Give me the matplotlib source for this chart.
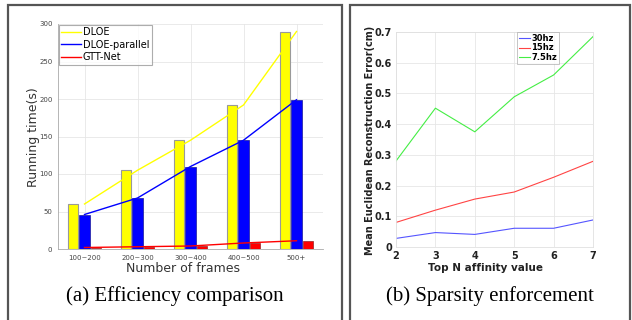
import numpy as np
import matplotlib
matplotlib.use("Agg")
import matplotlib.pyplot as plt
from matplotlib.patches import Rectangle

# === data: (a) efficiency ===
frame_groups = ["100~200", "200~300", "300~400", "400~500", "500+"]
dloe = [60, 105, 145, 192, 290]
dloe_parallel = [46, 68, 110, 145, 199]
gtt_net = [2, 3, 4, 8, 11]

# === data: (b) sparsity ===
top_n = [2, 3, 4, 5, 6, 7]
err_30hz = [0.028, 0.047, 0.041, 0.061, 0.061, 0.088]
err_15hz = [0.080, 0.120, 0.156, 0.179, 0.227, 0.279]
err_7_5hz = [0.280, 0.452, 0.375, 0.489, 0.560, 0.685]

fig = plt.figure(figsize=(6.32, 3.2), dpi=100)

# outer frames
W, H = 632.0, 320.0
for x0, x1 in [(8, 342), (350, 630)]:
    fig.patches.append(Rectangle((x0 / W, -0.05), (x1 - x0) / W, 1 - 5 / H + 0.05,
                                 transform=fig.transFigure, fill=False,
                                 edgecolor="#555555", linewidth=1.6))

grid_kw = dict(color="#e6e6e6", linewidth=0.6)

# === (a) Efficiency comparison ===
ax1 = fig.add_axes([58 / W, 1 - 249 / H, 265 / W, 225 / H])
x = np.arange(1, len(frame_groups) + 1)
bw = 0.19
ax1.bar(x - 0.22, dloe, bw, color="yellow", edgecolor="#999999", linewidth=0.8, zorder=3)
ax1.bar(x, dloe_parallel, bw, color="blue", edgecolor="#1a1a99", linewidth=0.5, zorder=3)
ax1.bar(x + 0.22, gtt_net, bw, color="red", edgecolor="#992222", linewidth=0.5, zorder=3)
ax1.plot(x, dloe, color="yellow", linewidth=1.0, label="DLOE", zorder=4)
ax1.plot(x, dloe_parallel, color="blue", linewidth=1.0, label="DLOE-parallel", zorder=4)
ax1.plot(x, gtt_net, color="red", linewidth=1.0, label="GTT-Net", zorder=4)
ax1.set_xlim(0.5, 5.5)
ax1.set_ylim(0, 300)
ax1.set_xticks(x)
ax1.set_xticklabels(frame_groups)
ax1.set_yticks(np.arange(0, 301, 50))
ax1.tick_params(labelsize=5, colors="#444444", length=0, pad=4)
ax1.grid(True, **grid_kw)
ax1.set_axisbelow(True)
for s in ["top", "right"]:
    ax1.spines[s].set_visible(False)
for s in ["left", "bottom"]:
    ax1.spines[s].set_color("#aaaaaa")
    ax1.spines[s].set_linewidth(0.6)
leg1 = ax1.legend(loc="upper left", fontsize=7, handlelength=2.0, handletextpad=0.2,
                  borderaxespad=0.1, borderpad=0.25, labelspacing=0.25, fancybox=False)
leg1.get_frame().set_edgecolor("#999999")
leg1.get_frame().set_linewidth(0.8)
fig.text(33 / W, 1 - 137 / H, "Running time(s)", rotation=90, ha="center", va="center",
         fontsize=9, color="#333333")
fig.text(183 / W, 1 - 268 / H, "Number of frames", ha="center", va="center",
         fontsize=9, color="#333333")
fig.text(175 / W, 1 - 296 / H, "(a) Efficiency comparison", ha="center", va="center",
         fontsize=15, family="Liberation Serif")

# === (b) Sparsity enforcement ===
ax2 = fig.add_axes([396 / W, 1 - 247 / H, 197 / W, 215 / H])
ax2.plot(top_n, err_30hz, color="#5555ff", linewidth=0.8, label="30hz")
ax2.plot(top_n, err_15hz, color="#ff4444", linewidth=0.8, label="15hz")
ax2.plot(top_n, err_7_5hz, color="#44ee44", linewidth=0.8, label="7.5hz")
ax2.set_xlim(2, 7)
ax2.set_ylim(0, 0.7)
ax2.set_xticks(top_n)
ax2.set_yticks([0, 0.1, 0.2, 0.3, 0.4, 0.5, 0.6, 0.7])
ax2.set_yticklabels(["0", "0.1", "0.2", "0.3", "0.4", "0.5", "0.6", "0.7"])
ax2.tick_params(labelsize=7, colors="#222222", length=0, pad=3)
for lbl in ax2.get_xticklabels() + ax2.get_yticklabels():
    lbl.set_fontweight("bold")
ax2.grid(True, **grid_kw)
ax2.set_axisbelow(True)
for s in ax2.spines.values():
    s.set_color("#e0e0e0")
    s.set_linewidth(0.6)
leg2 = ax2.legend(loc="upper left", bbox_to_anchor=(121 / 197, 1.0),
                  prop={"weight": "bold", "size": 6}, handlelength=1.3, handletextpad=0.2,
                  borderaxespad=0.0, borderpad=0.2, labelspacing=0.1, fancybox=False)
leg2.get_frame().set_edgecolor("#aaaaaa")
leg2.get_frame().set_linewidth(0.6)
fig.text(370 / W, 1 - 140 / H, "Mean Euclidean Reconstruction Error(cm)", rotation=90,
         ha="center", va="center", fontsize=7, fontweight="bold", color="#222222")
fig.text(485 / W, 1 - 268 / H, "Top N affinity value", ha="center", va="center",
         fontsize=7.5, fontweight="bold", color="#222222")
fig.text(490 / W, 1 - 296 / H, "(b) Sparsity enforcement", ha="center", va="center",
         fontsize=15, family="Liberation Serif")

fig.savefig("out.png", dpi=100)
